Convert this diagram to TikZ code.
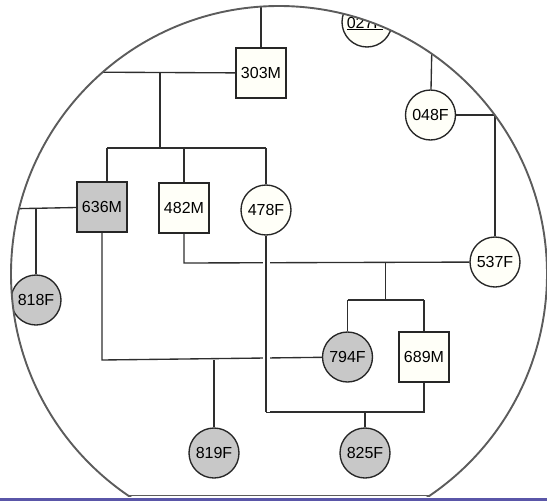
\documentclass[tikz,border=0pt]{standalone}
\usepackage{fontspec}
\setmainfont{Liberation Sans}
\definecolor{paper}{RGB}{255,255,248}
\definecolor{affected}{RGB}{200,200,200}
\definecolor{rim}{RGB}{92,92,92}
\definecolor{barcol}{RGB}{90,86,168}
\begin{document}
\begin{tikzpicture}[
    x=1pt,y=-1pt,
    male/.style={
        draw=black!85,
        fill=paper,
        line width=1.35pt,
        minimum width=50pt,
        minimum height=50pt,
        inner sep=0pt,
        font=\fontsize{16}{18}\selectfont
    },
    female/.style={
        circle,
        draw=black!85,
        fill=paper,
        line width=1.35pt,
        minimum size=50pt,
        inner sep=0pt,
        font=\fontsize{16}{18}\selectfont
    },
    ill/.style={fill=affected},
    link/.style={line width=1.35pt, draw=black!82},
    hop/.style={preaction={draw=white, line width=7pt}}
]
    \useasboundingbox (0,0) rectangle (547,501);

    % bottom bar
    \fill[barcol] (0,498) rectangle (547,501);

    \begin{scope}
    \clip (279,274) circle (268);

    % people
    \node[male] (p303) at (261,73) {303M};
    \node[female] (p027) at (367,22) {};
    \node[anchor=base, inner sep=0pt, font=\fontsize{16}{18}\selectfont]
        (t027) at (365,28) {\underline{027F}};
    \node[female] (p048) at (430.5,115) {048F};
    \node[male, ill] (p636) at (102,207) {636M};
    \node[male] (p482) at (184,208) {482M};
    \node[female] (p478) at (266,210) {478F};
    \node[female] (p537) at (495,262) {537F};
    \node[female, ill] (p818) at (36,300) {818F};
    \node[female, ill] (p794) at (347.5,357) {794F};
    \node[male] (p689) at (424,357) {689M};
    \node[female, ill] (p819) at (214,453) {819F};
    \node[female, ill] (p825) at (365,453) {825F};

    % junction points
    \coordinate (top303) at (261,0);
    \coordinate (mate303) at (60,72);
    \coordinate (kids303) at (160,72);
    \coordinate (sib303) at (160,148);
    \coordinate (sibL) at (107,148);
    \coordinate (sibR) at (266,148);
    \coordinate (mate636) at (0,209);
    \coordinate (kid636) at (36,209);
    \coordinate (top048) at (432,40);
    \coordinate (mate048) at (530,115);
    \coordinate (kid048) at (495,115);
    \coordinate (mar482) at (184,263);
    \coordinate (kids482) at (385.5,263);
    \coordinate (sib482) at (385.5,300);
    \coordinate (sib482L) at (347.5,300);
    \coordinate (sib482R) at (424,300);
    \coordinate (mar636) at (102,360);
    \coordinate (kid794) at (214,360);
    \coordinate (mar689) at (424,412);
    \coordinate (mar478) at (266,412);
    \coordinate (kid689) at (365,412);

    % generation 1
    \draw[link] (p303) -- (top303);
    \draw[link] (p303) -- (mate303);
    \draw[link] (kids303) -- (sib303);
    \draw[link] (sibL) -- (sibR);
    \draw[link] (sibL) -- (sibL |- p636.north);
    \draw[link] (p482.north |- sibL) -- (p482);
    \draw[link] (sibR) -- (p478);

    \draw[link] (p048) -- (top048);
    \draw[link] (p048) -- (mate048);
    \draw[link] (kid048) -- (p537);

    % generation 2
    \draw[link] (p636) -- (mate636);
    \draw[link] (kid636) -- (p818);
    \draw[link] (p482) -- (mar482) -- (p537);
    \draw[link] (kids482) -- (sib482);
    \draw[link] (sib482L) -- (sib482R);
    \draw[link] (sib482L) -- (p794);
    \draw[link] (sib482R) -- (p689);

    % generation 3
    \draw[link] (p636) -- (mar636) -- (p794);
    \draw[link] (kid794) -- (p819);
    \draw[link] (p689) -- (mar689) -- (mar478);
    \draw[link] (kid689) -- (p825);
    \draw[link, hop] (p478) -- (mar478);
    \end{scope}

    % lens rim
    \begin{scope}
    \clip (0,0) rectangle (547,496);
    \draw[rim, line width=1.9pt] (279,274) circle (268);
    \end{scope}
    \draw[rim, line width=1.9pt] (129,495.5) -- (429,495.5);

\end{tikzpicture}
\end{document}
